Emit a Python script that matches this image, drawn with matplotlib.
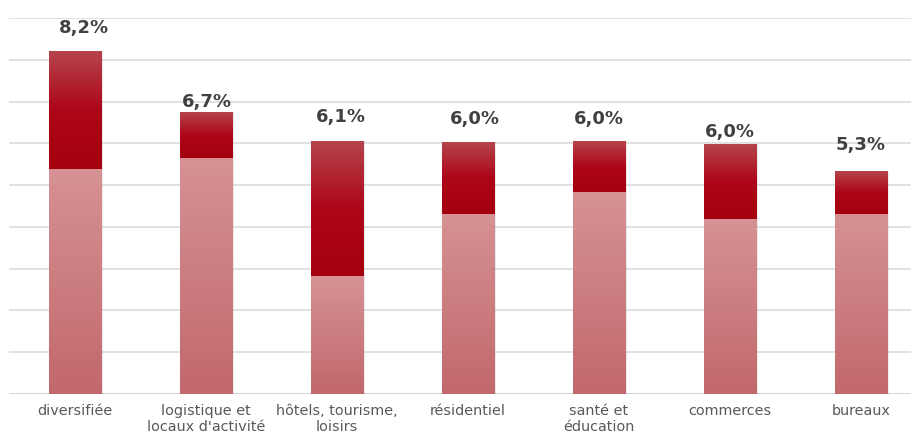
import matplotlib
matplotlib.use("Agg")
import matplotlib.pyplot as plt
import numpy as np
from matplotlib.colors import LinearSegmentedColormap

categories = ["diversifiée", "logistique et\nlocaux d'activité", "hôtels, tourisme,\nloisirs",
              "résidentiel", "santé et\néducation", "commerces", "bureaux"]
base_values = [5.38, 5.65, 2.82, 4.31, 4.83, 4.19, 4.31]
total_values = [8.2, 6.75, 6.05, 6.03, 6.03, 5.98, 5.33]
value_labels = ["8,2%", "6,7%", "6,1%", "6,0%", "6,0%", "6,0%", "5,3%"]

# label placement tweaks (style only)
label_dy = [0.56, 0.24, 0.58, 0.55, 0.55, 0.29, 0.63]
label_dx = [0.07, 0.01, 0.03, 0.05, 0.0, 0.0, 0.0]

fig = plt.figure(figsize=(9.12, 4.37), dpi=100)
W, H = 912, 437
left_px, right_px = 9.5, 912
bottom_px, top_px = 394, 18
ax = fig.add_axes([left_px / W, 1 - bottom_px / H, (right_px - left_px) / W, (bottom_px - top_px) / H])
ax.set_xlim(-0.5, 6.5 - 14.5 / 131)
ax.set_ylim(0, 9)

for y in range(1, 10):
    ax.axhline(y, color="#d9d9d9", lw=1.1, zorder=0)
ax.axhline(0, color="#cfcfcf", lw=1.3, zorder=1)

cmap_base = LinearSegmentedColormap.from_list("b", ["#c2686c", "#d69294"])
cmap_top = LinearSegmentedColormap.from_list("t", ["#a5000e", "#ad0618", "#b5444c"])
grad = np.linspace(0, 1, 256).reshape(-1, 1)

bw = 0.40
x = np.arange(len(categories))
for i in x:
    b = base_values[i]
    t = total_values[i]
    # shadow
    ax.bar(i + 0.004, t, bw + 0.012, bottom=0, color="#000000", alpha=0.08, zorder=1.5, lw=0)
    ax.imshow(grad, cmap=cmap_base, aspect="auto", origin="lower",
              extent=[i - bw / 2, i + bw / 2, 0, b], zorder=2)
    ax.imshow(grad, cmap=cmap_top, aspect="auto", origin="lower",
              extent=[i - bw / 2, i + bw / 2, b, t], zorder=2)
    ax.text(i + label_dx[i], t + label_dy[i], value_labels[i], ha="center", va="center",
            fontsize=13, fontweight="bold", color="#404040", family="DejaVu Sans")

ax.set_xlim(-0.5, 6.5 - 14.5 / 131)
ax.set_ylim(0, 9)
ax.set_xticks(x)
ax.set_xticklabels(categories, fontsize=10.4, color="#595959", linespacing=1.18)
ax.tick_params(axis="x", length=0, pad=7)
ax.set_yticks([])
for s in ax.spines.values():
    s.set_visible(False)

fig.savefig("out.png", dpi=100)
